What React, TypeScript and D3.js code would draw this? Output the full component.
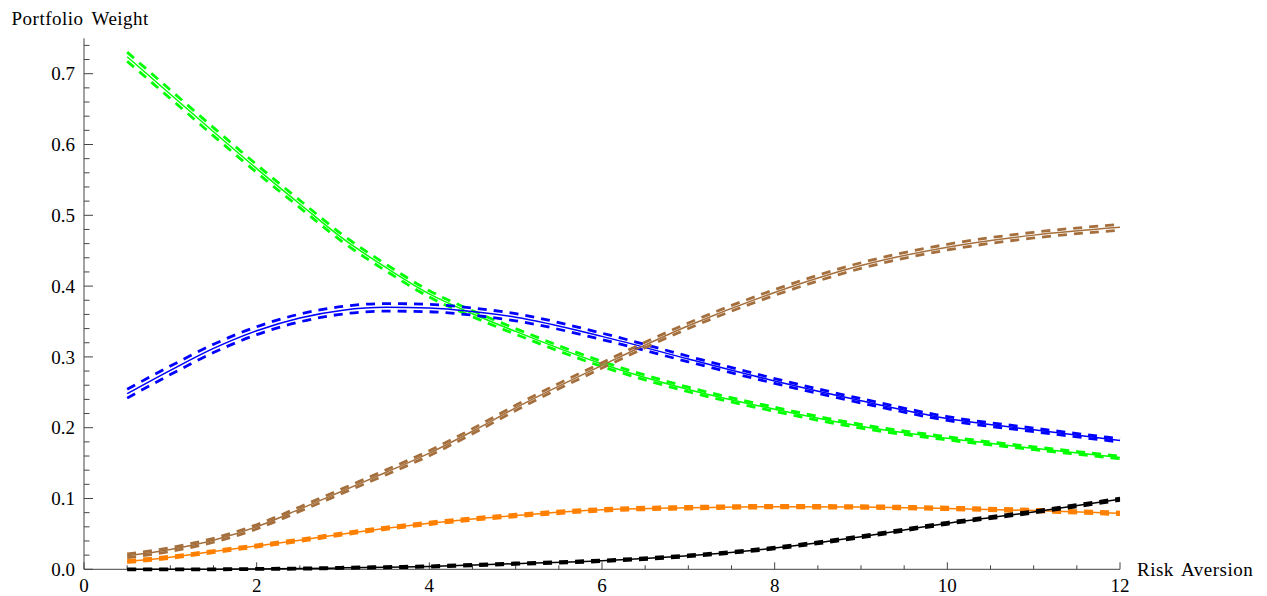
import React from "react";
import * as d3 from "d3";

const riskAversion = [0.5, 1, 1.5, 2, 2.5, 3, 3.5, 4, 4.5, 5, 6, 7, 8, 9, 10, 11, 12];

const greenWeight = [0.724, 0.671, 0.618, 0.566, 0.516, 0.467, 0.426, 0.389, 0.361, 0.336, 0.29, 0.254, 0.226, 0.202, 0.185, 0.171, 0.158];
const blueWeight = [0.248, 0.281, 0.312, 0.337, 0.355, 0.366, 0.37, 0.369, 0.364, 0.356, 0.329, 0.297, 0.266, 0.238, 0.213, 0.197, 0.182];
const brownWeight = [0.019, 0.028, 0.041, 0.06, 0.085, 0.111, 0.137, 0.164, 0.195, 0.228, 0.288, 0.344, 0.391, 0.429, 0.455, 0.472, 0.483];
const orangeWeight = [0.011, 0.017, 0.025, 0.033, 0.041, 0.05, 0.058, 0.065, 0.071, 0.076, 0.084, 0.087, 0.0885, 0.088, 0.086, 0.083, 0.079];
const blackWeight = [0, 0, 0, 0.0005, 0.001, 0.002, 0.003, 0.004, 0.006, 0.008, 0.012, 0.019, 0.03, 0.046, 0.065, 0.081, 0.099];

const greenBand = [0.0064, 0.006, 0.0058, 0.0055, 0.0052, 0.005, 0.0047, 0.0045, 0.0042, 0.004, 0.0036, 0.0032, 0.0029, 0.0026, 0.0023, 0.002, 0.0018];
const blueBand = [0.0062, 0.006, 0.0058, 0.0056, 0.0055, 0.0054, 0.0053, 0.0052, 0.0051, 0.005, 0.0045, 0.0039, 0.0034, 0.003, 0.0027, 0.0025, 0.0023];
const brownBand = [0.0026, 0.0027, 0.0028, 0.003, 0.0031, 0.0033, 0.0034, 0.0035, 0.0036, 0.0037, 0.0038, 0.0039, 0.004, 0.004, 0.004, 0.004, 0.004];
const orangeBand = [0.0015, 0.0015, 0.0015, 0.0016, 0.0016, 0.0016, 0.0017, 0.0017, 0.0017, 0.0018, 0.0018, 0.0018, 0.0018, 0.0018, 0.0018, 0.0018, 0.0018];
const blackBand = [0.0006, 0.0006, 0.0007, 0.0007, 0.0008, 0.0008, 0.0009, 0.0009, 0.001, 0.001, 0.0011, 0.0012, 0.0013, 0.0014, 0.0014, 0.0015, 0.0015];

const seriesColors = ["#00ff00", "#0000ff", "#a46f3c", "#ff8000", "#000000"];

const xMajorTicks = [0, 2, 4, 6, 8, 10, 12];
const yMajorTicks = [0, 0.1, 0.2, 0.3, 0.4, 0.5, 0.6, 0.7];

const W = 1267;
const H = 596;

export default function App() {
  const x = d3.scaleLinear().domain([0, 12]).range([84, 1120]);
  const y = d3.scaleLinear().domain([0, 0.75]).range([569.3, 38.3]);

  const series = [
    { c: greenWeight, b: greenBand, color: seriesColors[0] },
    { c: blueWeight, b: blueBand, color: seriesColors[1] },
    { c: brownWeight, b: brownBand, color: seriesColors[2] },
    { c: orangeWeight, b: orangeBand, color: seriesColors[3] },
    { c: blackWeight, b: blackBand, color: seriesColors[4] },
  ];

  const line = d3
    .line<[number, number]>()
    .x((d) => x(d[0]))
    .y((d) => y(d[1]))
    .curve(d3.curveMonotoneX);

  const xMinor = d3.range(0.5, 12.01, 0.5).filter((v) => Math.abs(v / 2 - Math.round(v / 2)) > 1e-6);
  const yMinor = d3.range(0.02, 0.751, 0.02).filter((v) => Math.abs(v * 10 - Math.round(v * 10)) > 1e-6);

  const font = "'Liberation Serif', 'Times New Roman', serif";
  const axisColor = "#444";

  return (
    <svg
      width={W}
      height={H}
      style={{ position: "absolute", left: 0, top: 0, display: "block", background: "#fff" }}
      fontFamily={font}
    >
      {/* axes */}
      <line x1={x(0)} x2={x(12)} y1={y(0)} y2={y(0)} stroke={axisColor} strokeWidth={1} />
      <line x1={x(0)} x2={x(0)} y1={y(0)} y2={y(0.75)} stroke={axisColor} strokeWidth={1} />
      {xMajorTicks.map((t) => (
        <g key={"xt" + t}>
          <line x1={x(t)} x2={x(t)} y1={y(0)} y2={y(0) - 7} stroke={axisColor} />
          <text x={x(t)} y={592} textAnchor="middle" fontSize={19} fill="#000">
            {t}
          </text>
        </g>
      ))}
      {xMinor.map((t) => (
        <line key={"xm" + t} x1={x(t)} x2={x(t)} y1={y(0)} y2={y(0) - 4} stroke={axisColor} />
      ))}
      {yMajorTicks.map((t) => (
        <g key={"yt" + t}>
          <line x1={x(0)} x2={x(0) + 9} y1={y(t)} y2={y(t)} stroke={axisColor} />
          <text x={75} y={y(t)} dy="0.35em" textAnchor="end" fontSize={19} fill="#000">
            {t.toFixed(1)}
          </text>
        </g>
      ))}
      {yMinor.map((t) => (
        <line key={"ym" + t} x1={x(0)} x2={x(0) + 5.5} y1={y(t)} y2={y(t)} stroke={axisColor} />
      ))}
      <text x={11.5} y={25} fontSize={19} fill="#000" wordSpacing={3} letterSpacing={0.5}>
        Portfolio Weight
      </text>
      <text x={1137} y={576} fontSize={19} fill="#000" wordSpacing={3} letterSpacing={0.5}>
        Risk Aversion
      </text>

      {/* series */}
      {series.map((s, i) => {
        const center = riskAversion.map((v, k) => [v, s.c[k]] as [number, number]);
        const upper = riskAversion.map((v, k) => [v, s.c[k] + s.b[k]] as [number, number]);
        const lower = riskAversion.map((v, k) => [v, s.c[k] - s.b[k]] as [number, number]);
        return (
          <g key={"s" + i}>
            <path d={line(center) || ""} fill="none" stroke={s.color} strokeWidth={1.5} />
            <path d={line(upper) || ""} fill="none" stroke={s.color} strokeWidth={2.8} strokeDasharray="9,7" />
            <path d={line(lower) || ""} fill="none" stroke={s.color} strokeWidth={2.8} strokeDasharray="9,7" />
          </g>
        );
      })}
    </svg>
  );
}
